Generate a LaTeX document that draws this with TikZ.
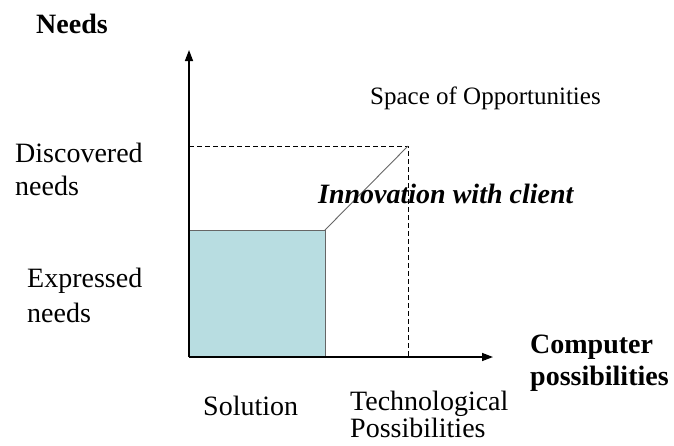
\documentclass[tikz,border=0pt]{standalone}
\usepackage{fontspec}
\setmainfont{Liberation Serif}
\usetikzlibrary{arrows.meta}
\definecolor{solfill}{RGB}{184,221,225}
\begin{document}
\begin{tikzpicture}[x=1pt,y=-1pt]
		\tikzstyle{every node}+=[inner sep=0pt,font=\fontsize{28}{33}\selectfont]
		\tikzstyle{lbl}=[anchor=base west,align=left]
		\tikzstyle{axis}=[black,line width=1.4pt,-{Triangle[length=11pt,width=8pt]}]
		\useasboundingbox (0,0) rectangle (674,445);
		\coordinate (o) at (189,357);
		\coordinate (ytip) at (189,50);
		\coordinate (xtip) at (493,357);
		\coordinate (expr) at (189,230);
		\coordinate (sol) at (325,357);
		\coordinate (solc) at (325,230);
		\coordinate (disc) at (189,146);
		\coordinate (tech) at (408,357);
		\coordinate (opp) at (408,146);
		\fill [solfill] (o) rectangle (solc);
		\draw [black!60,line width=0.9pt] (expr) -- (solc) -- (sol);
		\draw [black,dashed,dash pattern=on 5pt off 3pt,line width=0.9pt] (disc) -- (opp) -- (tech);
		\draw [black!60,line width=0.9pt] (solc) -- (opp);
		\draw [axis] (o) -- (ytip);
		\draw [axis] (o) -- (xtip);
		% last line of each label sits on the given baseline
		\draw (36,33) node [lbl] (needs) {\bfseries Needs};
		\draw (15,195) node [lbl] (discn) {Discovered\\needs};
		\draw (27,322) node [lbl,font=\fontsize{28}{35}\selectfont] (exprn) {Expressed\\needs};
		\draw (370,104) node [lbl,font=\fontsize{25}{30}\selectfont] (space) {Space of Opportunities};
		\draw (318,203) node [lbl] (innov) {\bfseries\itshape Innovation with client};
		\draw (530,385) node [lbl,font=\fontsize{28}{32}\selectfont] (comp) {\bfseries Computer\\\bfseries possibilities};
		\draw (203,415) node [lbl] (soln) {Solution};
		\draw (350,437) node [lbl,font=\fontsize{28}{27}\selectfont] (techn) {Technological\\Possibilities};
	\end{tikzpicture}
\end{document}
